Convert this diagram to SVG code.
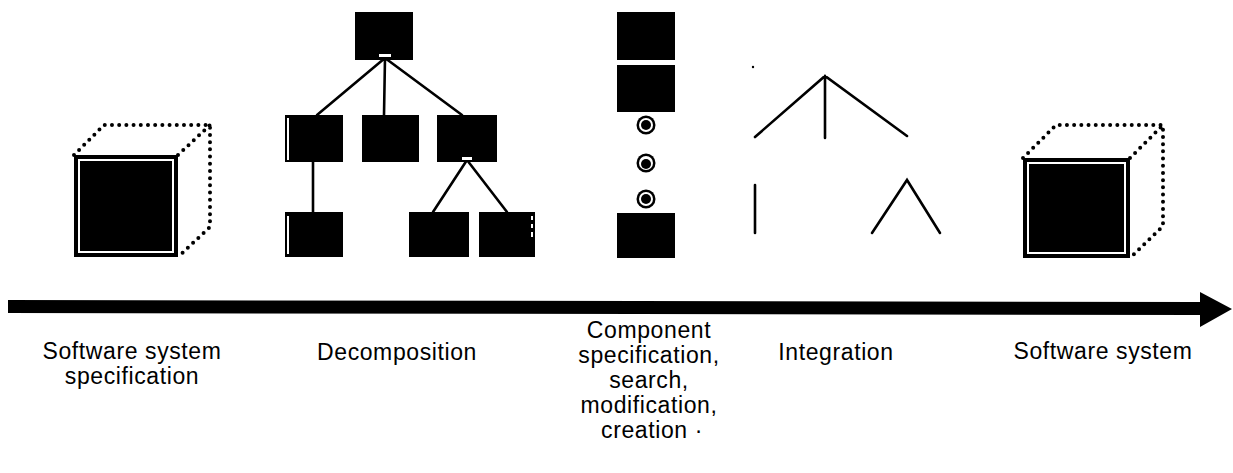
<svg xmlns="http://www.w3.org/2000/svg" width="1233" height="473" viewBox="0 0 1233 473">
  <defs>
    <style>
      .blk { fill: #000; }
      .hl { fill: #fff; }
      .edge { stroke: #000; stroke-width: 2.6; fill: none; stroke-linecap: round; }
      .dots { stroke: #000; stroke-width: 4; fill: none; stroke-linecap: round; stroke-dasharray: 0 7.2; }
      .inner { fill: none; stroke: #fff; stroke-width: 2; }
      .lbl { font-family: "Liberation Sans", Arial, Helvetica, sans-serif; font-size: 23px; fill: #000; text-anchor: middle; letter-spacing: 0.6px; }
    </style>
  </defs>
  <rect width="1233" height="473" fill="#fff"/>

  <!-- Process timeline arrow -->
  <g id="timeline">
    <polygon class="blk" points="8,300 1200,302 1200,292 1232,309 1200,327 1200,315 8,313"/>
  </g>

  <!-- Stage 1: specification cube -->
  <g id="spec-cube">
    <path class="dots" d="M74,155 L104,125 L210,125 L210,227 L178,257 M178,155 L210,125"/>
    <rect class="blk" x="74" y="155" width="104" height="102"/>
    <rect class="inner" x="79" y="160" width="94" height="92"/>
  </g>

  <!-- Stage 2: decomposition tree -->
  <g id="decomposition-links">
    <path class="edge" d="M385,58 L317,115 M385,58 L384,115 M385,58 L462,115 M313,162 L313,212 M467,160 L433,212 M467,160 L507,212"/>
  </g>
  <g id="decomp-root">
    <rect class="blk" x="355" y="12" width="58" height="48"/>
    <rect class="hl" x="379" y="54" width="12" height="3"/>
  </g>
  <g id="decomp-a">
    <rect class="blk" x="285" y="115" width="58" height="47"/>
    <rect class="hl" x="287" y="118" width="2" height="42"/>
  </g>
  <g id="decomp-b">
    <rect class="blk" x="362" y="115" width="57" height="47"/>
  </g>
  <g id="decomp-c">
    <rect class="blk" x="437" y="115" width="60" height="47"/>
    <rect class="hl" x="462" y="157" width="10" height="3"/>
  </g>
  <g id="decomp-d">
    <rect class="blk" x="285" y="212" width="58" height="45"/>
    <rect class="hl" x="287" y="216" width="2" height="38"/>
  </g>
  <g id="decomp-e">
    <rect class="blk" x="409" y="212" width="60" height="45"/>
  </g>
  <g id="decomp-f">
    <rect class="blk" x="479" y="212" width="56" height="45"/>
    <rect class="hl" x="531" y="216" width="2" height="4"/>
    <rect class="hl" x="531" y="224" width="2" height="4"/>
    <rect class="hl" x="531" y="232" width="2" height="5"/>
  </g>

  <!-- Stage 3: component column -->
  <g id="component-1">
    <rect class="blk" x="617" y="12" width="58" height="48"/>
  </g>
  <g id="component-2">
    <rect class="blk" x="617" y="65" width="58" height="47"/>
  </g>
  <g id="component-ops">
    <circle class="blk" cx="646" cy="125" r="9.5"/>
    <circle class="hl" cx="646" cy="125" r="7"/>
    <circle class="blk" cx="646" cy="125" r="5"/>
    <circle class="blk" cx="646" cy="163" r="9.5"/>
    <circle class="hl" cx="646" cy="163" r="7"/>
    <circle class="blk" cx="646" cy="164" r="5"/>
    <circle class="blk" cx="646" cy="199" r="9.5"/>
    <circle class="hl" cx="646" cy="199" r="7"/>
    <circle class="blk" cx="646" cy="199" r="5"/>
  </g>
  <g id="component-3">
    <rect class="blk" x="617" y="213" width="58" height="45"/>
  </g>

  <!-- Stage 4: integration links -->
  <g id="integration-links">
    <path class="edge" d="M755,137 L825,76 L907,136 M825,76 L825,138"/>
    <path class="edge" d="M755,185 L755,233"/>
    <path class="edge" d="M872,233 L907,180 L940,233"/>
    <circle class="blk" cx="753" cy="67" r="1.2"/>
  </g>

  <!-- Stage 5: finished system cube -->
  <g id="system-cube">
    <path class="dots" d="M1023,158 L1056,125 L1163,125 L1163,226 L1130,258 M1130,158 L1163,125"/>
    <rect class="blk" x="1023" y="158" width="107" height="100"/>
    <rect class="inner" x="1028" y="163" width="97" height="90"/>
  </g>

  <!-- Stage labels -->
  <g id="labels">
    <text class="lbl" x="132" y="359">Software system</text>
    <text class="lbl" x="132" y="384">specification</text>
    <text class="lbl" x="397" y="360">Decomposition</text>
    <text class="lbl" x="649" y="338">Component</text>
    <text class="lbl" x="649" y="363">specification,</text>
    <text class="lbl" x="649" y="388">search,</text>
    <text class="lbl" x="649" y="413">modification,</text>
    <text class="lbl" x="652" y="438">creation ·</text>
    <text class="lbl" x="836" y="360">Integration</text>
    <text class="lbl" x="1103" y="359">Software system</text>
  </g>
</svg>
